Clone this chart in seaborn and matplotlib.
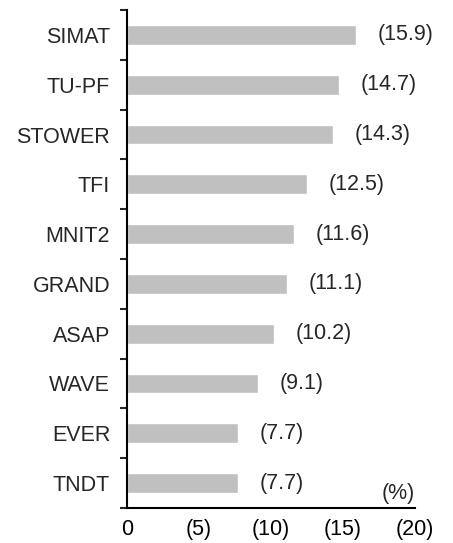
import numpy as np
import matplotlib
matplotlib.use("Agg")
import matplotlib.pyplot as plt
import seaborn as sns
from matplotlib.ticker import FixedLocator, FuncFormatter

# data (values are declines, shown in parentheses)
names = ["SIMAT", "TU-PF", "STOWER", "TFI", "MNIT2", "GRAND", "ASAP", "WAVE", "EVER", "TNDT"]
values = [15.9, 14.7, 14.3, 12.5, 11.6, 11.1, 10.2, 9.1, 7.7, 7.7]
xticks = [0, 5, 10, 15, 20]

sns.set_style("white")
plt.rcParams["font.family"] = ["Liberation Sans", "DejaVu Sans"]
fs = 15.5

fig = plt.figure(figsize=(4.53, 5.43), dpi=100)
ax = fig.add_axes([0.280, 0.0645, 0.636, 0.917])

sns.barplot(x=values, y=names, orient="h", color="#C0C0C0", width=0.4,
            saturation=1, ax=ax)

for i, v in enumerate(values):
    ax.text(v + 1.5, i, f"({v:.1f})", va="center", ha="left", fontsize=fs)

ax.set_xlim(0, 20)
ax.set_ylim(len(names) - 0.5, -0.5)
ax.xaxis.set_major_locator(FixedLocator(xticks))
ax.xaxis.set_major_formatter(FuncFormatter(lambda x, p: "0" if x == 0 else f"({x:.0f})"))
ax.yaxis.set_minor_locator(FixedLocator(np.arange(-0.5, len(names), 1.0)))

ax.tick_params(axis="x", direction="in", length=5, width=1.5, pad=8, labelsize=fs, colors="black")
ax.tick_params(axis="y", which="major", length=0, pad=12, labelsize=fs)
ax.tick_params(axis="y", which="minor", direction="out", length=5, width=1.5, left=True)

for s in ["top", "right"]:
    ax.spines[s].set_visible(False)
for s in ["left", "bottom"]:
    ax.spines[s].set_color("black")
    ax.spines[s].set_linewidth(1.5)

ax.set_xlabel("")
ax.set_ylabel("")
ax.text(1.0, 0.008, "(%)", transform=ax.transAxes, ha="right", va="bottom", fontsize=fs)

fig.savefig("out.png", dpi=100)
